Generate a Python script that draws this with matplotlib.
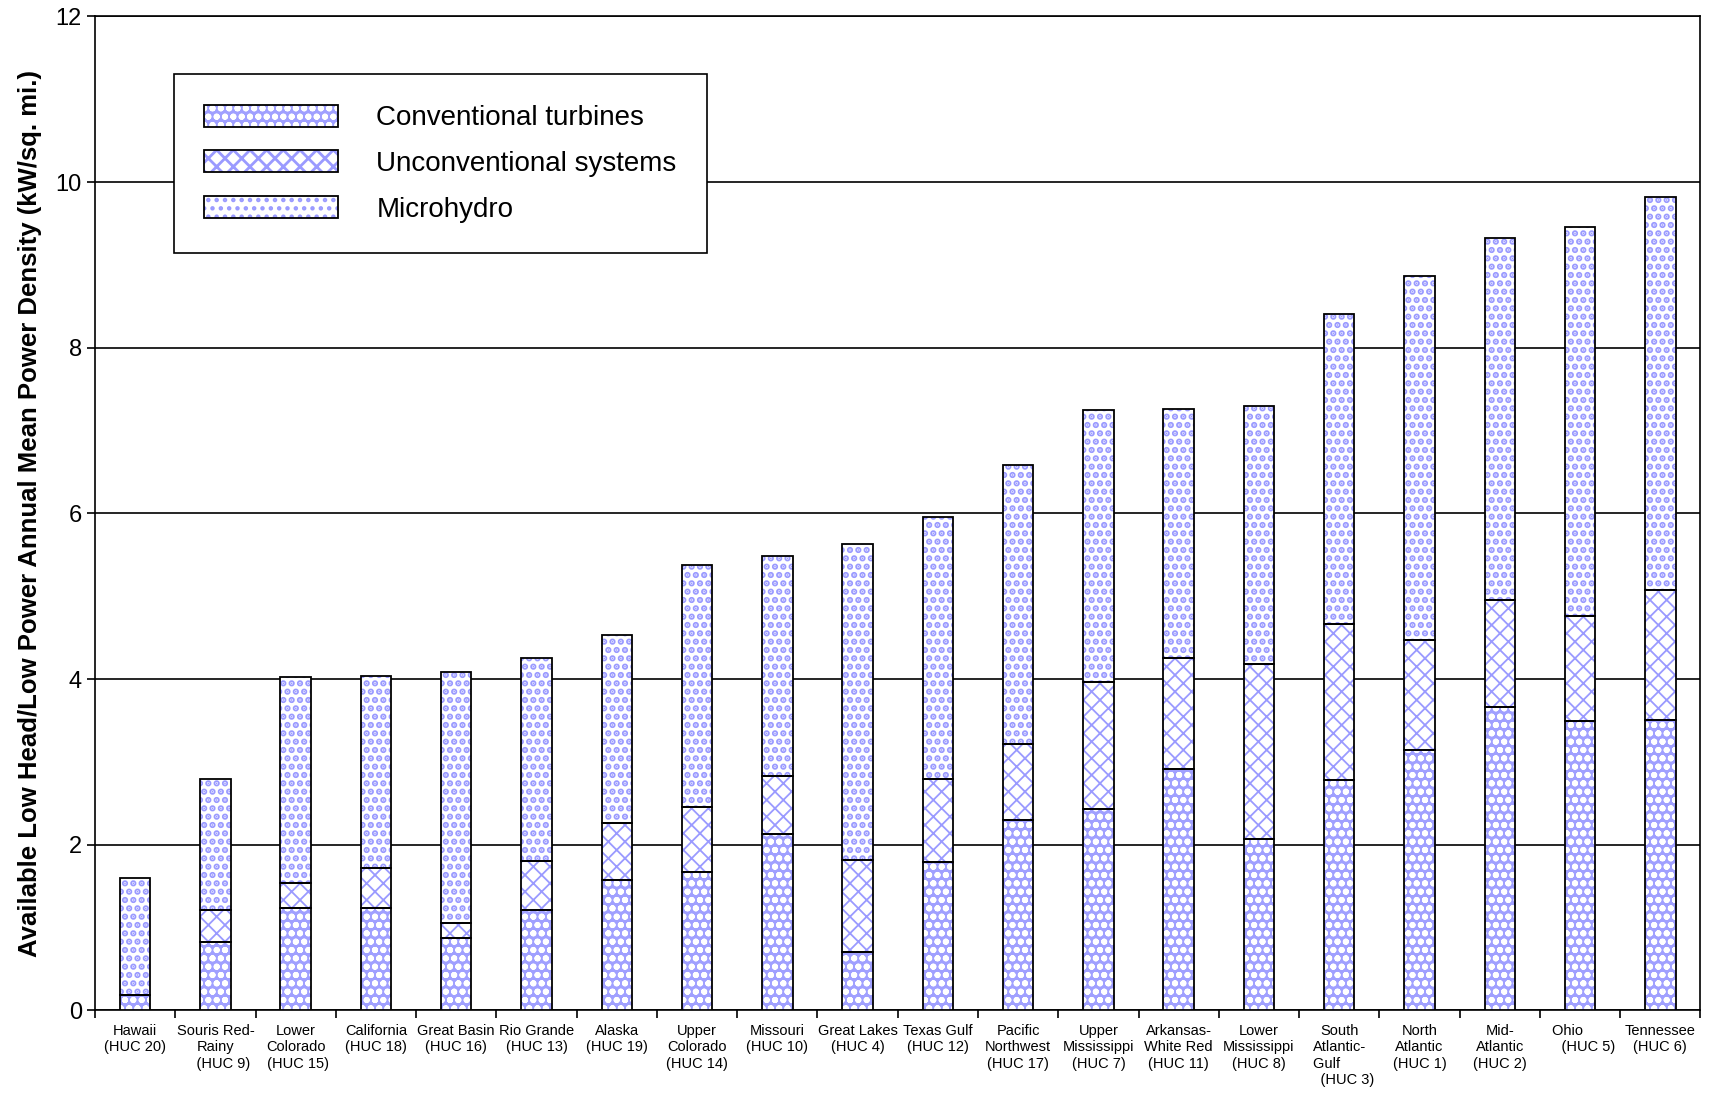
import matplotlib.pyplot as plt
import numpy as np
from matplotlib.patches import Patch
from matplotlib.legend_handler import HandlerTuple

plt.rcParams['font.family'] = ['Liberation Sans', 'DejaVu Sans']
plt.rcParams['hatch.linewidth'] = 2.0

regions = [
    "Hawaii\n(HUC 20)", "Souris Red-\nRainy\n    (HUC 9)", "Lower\nColorado\n (HUC 15)",
    "California\n(HUC 18)", "Great Basin\n(HUC 16)", "Rio Grande\n(HUC 13)",
    "Alaska\n(HUC 19)", "Upper\nColorado\n(HUC 14)", "Missouri\n(HUC 10)",
    "Great Lakes\n(HUC 4)", "Texas Gulf\n(HUC 12)", "Pacific\nNorthwest\n(HUC 17)",
    "Upper\nMississippi\n(HUC 7)", "Arkansas-\nWhite Red\n(HUC 11)", "Lower\nMississippi\n(HUC 8)",
    "South\nAtlantic-\nGulf      \n    (HUC 3)", "North\nAtlantic\n(HUC 1)", "Mid-\nAtlantic\n(HUC 2)",
    "Ohio      \n    (HUC 5)", "Tennessee\n(HUC 6)",
]

# stacked values (kW/sq. mi.)
conventional = [0.18, 0.82, 1.24, 1.24, 0.87, 1.21, 1.57, 1.67, 2.13, 0.70,
                1.79, 2.30, 2.43, 2.91, 2.07, 2.78, 3.14, 3.66, 3.49, 3.51]
unconventional = [0.00, 0.39, 0.30, 0.48, 0.18, 0.59, 0.69, 0.79, 0.70, 1.12,
                  1.00, 0.92, 1.53, 1.34, 2.11, 1.88, 1.33, 1.30, 1.27, 1.57]
microhydro = [1.42, 1.58, 2.49, 2.32, 3.03, 2.46, 2.27, 2.92, 2.66, 3.81,
              3.17, 3.37, 3.29, 3.01, 3.12, 3.75, 4.40, 4.37, 4.70, 4.74]

lav = '#9a9aff'
styles = [
    dict(facecolor='#a0a0ff', edgecolor='white', hatch='oo'),
    dict(facecolor='white', edgecolor=lav, hatch='xx'),
    dict(facecolor='white', edgecolor=lav, hatch='..'),
]
hatch_lw = [2.0, 1.3, 3.2]
series = [conventional, unconventional, microhydro]
names = ["Conventional turbines", "Unconventional systems", "Microhydro"]

fig = plt.figure(figsize=(17.09, 10.97), dpi=100)
ax = fig.add_axes([0.0556, 0.079, 0.9394, 0.906])

x = np.arange(len(regions))
w = 0.38
bottom = np.zeros(len(regions))
for vals, st, hl in zip(series, styles, hatch_lw):
    vals = np.array(vals)
    with plt.rc_context({'hatch.linewidth': hl}):
        ax.bar(x, vals, w, bottom=bottom, linewidth=0, zorder=3, **st)
    ax.bar(x, vals, w, bottom=bottom, facecolor='none', edgecolor='black',
           linewidth=1.3, zorder=4)
    bottom += vals

ax.set_xlim(-0.5, len(regions) - 0.5)
ax.set_ylim(0, 12)
ax.set_yticks(range(0, 13, 2))
ax.tick_params(axis='y', labelsize=17, length=6, width=1.2)
ax.set_xticks(x)
ax.set_xticklabels(regions, fontsize=10.5, family=['Liberation Sans Narrow', 'Liberation Sans'])
ax.tick_params(axis='x', length=0, pad=10)
ax.set_xticks(np.arange(-0.5, len(regions)), minor=True)
ax.tick_params(axis='x', which='minor', length=6, width=1.2)
ax.grid(axis='y', color='black', linewidth=1.2, zorder=0)
for sp in ax.spines.values():
    sp.set_linewidth(1.2)

ax.set_ylabel("Available Low Head/Low Power Annual Mean Power Density (kW/sq. mi.)",
              fontsize=18.5, fontweight='bold', labelpad=10)

handles = []
for st, hl in zip(styles, hatch_lw):
    with plt.rc_context({'hatch.linewidth': hl}):
        h1 = Patch(linewidth=0, **st)
    h2 = Patch(facecolor='none', edgecolor='black', linewidth=1.3)
    handles.append((h1, h2))
leg = ax.legend(handles, names, handler_map={tuple: HandlerTuple(ndivide=1)},
                loc='upper left', bbox_to_anchor=(0.049, 0.942), borderaxespad=0,
                fontsize=20, handlelength=4.8, handleheight=0.85, handletextpad=1.4,
                borderpad=1.1, labelspacing=0.68, fancybox=False, framealpha=1,
                edgecolor='black')
leg.get_frame().set_linewidth(1.2)
leg.set_zorder(5)

fig.savefig("out.png", dpi=100)
